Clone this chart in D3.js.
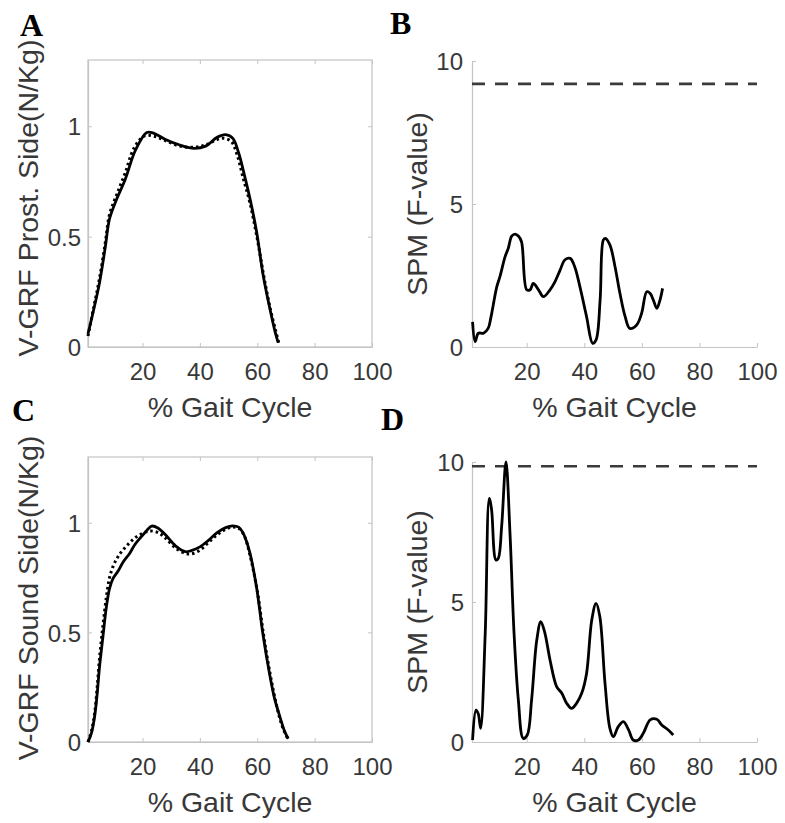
<!DOCTYPE html>
<html>
<head>
<meta charset="utf-8">
<script src="https://cdn.jsdelivr.net/npm/d3@7"></script>
<style>
html,body{margin:0;padding:0;background:#fff;}
svg{display:block;}
</style>
</head>
<body>
<svg id="chart" width="785" height="823"></svg>
<script>
// ---------------- DATA ----------------
const xTicks = [20, 40, 60, 80, 100];
const grfTicks = [0, 0.5, 1];
const spmTicks = [0, 5, 10];

// Panel A: V-GRF prosthetic side (solid / dotted)
const aSolidX = [1, 3, 5, 7, 8.5, 11, 14, 17.5, 21.5, 24, 28, 33, 38, 42, 46, 49, 51.5, 53.5, 55.5, 57.5, 59.8, 62, 64.3, 66.2, 67.3];
const aSolidY = [.06, .17, .29, .45, .58, .67, .76, .89, .972, .968, .94, .915, .90, .91, .95, .962, .945, .88, .78, .67, .52, .33, .18, .07, .02];
const aDotX = [1, 3, 5, 7, 8.5, 11, 14, 17, 20.5, 24, 28, 33, 38, 42, 46, 48.5, 51, 53, 55, 57.5, 60, 62.3, 64.6, 66.5, 67.5];
const aDotY = [.05, .18, .31, .47, .60, .69, .79, .90, .955, .955, .935, .91, .905, .915, .94, .945, .93, .87, .77, .65, .49, .32, .17, .07, .02];

// Panel B: SPM F-value, prosthetic side
const bX = [1.2, 2.1, 3.2, 5, 6.6, 7.5, 9.6, 10.7, 12.5, 13.6, 14.8, 16, 17.1, 18.2, 20, 21.2, 22.3, 24.1, 25.8, 28.1, 29.8, 31.6, 33.3, 35.1, 36.7, 38.5, 40.8, 42.9, 44.1, 45.5, 46.6, 47.3, 48.9, 50.7, 52.4, 54.2, 55.8, 58.2, 59.9, 61.7, 62.9, 64, 65.2, 66.3, 67.2];
const bY = [0.88, 0.19, 0.48, 0.48, 0.65, 1.0, 2.1, 2.46, 3.16, 3.45, 3.88, 3.95, 3.88, 3.68, 2.0, 2.0, 2.22, 2.0, 1.76, 2.0, 2.28, 2.69, 3.05, 3.1, 2.8, 2.1, 1.06, 0.13, 0.25, 1.64, 3.74, 3.8, 3.57, 2.8, 1.87, 1.06, 0.65, 0.77, 1.17, 1.93, 1.87, 1.64, 1.35, 1.64, 2.05];
const bThreshold = 9.2;

// Panel C: V-GRF sound side (solid / dotted)
const cSolidX = [1, 2.2, 3.3, 4.2, 5, 6.2, 7.4, 8.5, 9.7, 11.5, 13.2, 15.5, 17.3, 19.5, 21.5, 23.2, 25.5, 28, 31.5, 35, 37, 40, 43, 46, 49, 51.4, 53.5, 55, 57.3, 59.7, 62, 64.3, 66, 67.9, 69.5, 70.8];
const cSolidY = [0, .04, .115, .22, .34, .48, .615, .70, .745, .78, .82, .86, .90, .935, .965, .985, .975, .945, .895, .868, .873, .89, .92, .955, .978, .986, .98, .955, .87, .71, .49, .31, .20, .115, .05, .015];
const cDotX = [1, 2.2, 3.3, 4.2, 5, 6.2, 7.4, 8.5, 9.7, 11, 12.5, 14.5, 16.8, 19, 22.5, 25.5, 28, 31.5, 35, 37, 40, 43, 46, 49, 51.4, 53.5, 55.5, 57.5, 60, 62.3, 64.5, 66.5, 68.5, 70.5, 71.2];
const cDotY = [0, .05, .13, .25, .38, .53, .66, .75, .80, .835, .865, .895, .925, .945, .962, .955, .93, .885, .86, .858, .875, .91, .945, .97, .98, .975, .94, .85, .69, .48, .31, .18, .08, .02, .01];

// Panel D: SPM F-value, sound side
const dX = [1.2, 2.4, 3.2, 4, 5.6, 7, 7.8, 9.3, 10.1, 11.3, 12.8, 14.2, 15.6, 17.1, 18.8, 20.2, 21.7, 23.5, 24.9, 26.3, 28.1, 30.4, 32.2, 33.9, 35.6, 37.3, 39.1, 40.8, 42.6, 44.1, 45.4, 47.2, 48.9, 50.1, 51.8, 53.6, 55.4, 57, 58.8, 60.5, 62.9, 65.2, 66.9, 69.2, 70.9];
const dY = [0.07, 1.14, 1.0, 0.49, 3.9, 8.7, 8.3, 6.5, 6.55, 7.7, 10.0, 7.45, 3.9, 1.5, 0.13, 0.25, 1.5, 3.64, 4.3, 3.9, 2.93, 1.98, 1.74, 1.38, 1.2, 1.38, 1.74, 2.45, 4.36, 4.95, 4.48, 2.1, 0.49, 0.19, 0.55, 0.73, 0.43, 0.07, 0.07, 0.31, 0.79, 0.81, 0.61, 0.43, 0.25];
const dThreshold = 9.85;

// ---------------- DRAW ----------------
const svg = d3.select("#chart");
svg.append("rect").attr("width", 785).attr("height", 823).attr("fill", "#fff");

const FONT = "'Liberation Sans', Arial, sans-serif";
const AXIS_COLOR = "#c4c4c4";
const TEXT_COLOR = "#383838";
const zip = (xs, ys) => xs.map((x, i) => [x, ys[i]]);

function panel(cfg) {
  const x = d3.scaleLinear().domain([1, 100]).range([cfg.left, cfg.right]);
  const y = d3.scaleLinear().domain(cfg.yDomain).range([cfg.bottom, cfg.top]);
  const g = svg.append("g");

  if (cfg.box) {
    g.append("rect")
      .attr("x", cfg.left).attr("y", cfg.top)
      .attr("width", cfg.right - cfg.left).attr("height", cfg.bottom - cfg.top)
      .attr("fill", "none").attr("stroke", AXIS_COLOR).attr("stroke-width", 1.2);
    g.append("g").attr("transform", `translate(0,${cfg.top})`)
      .call(d3.axisTop(x).tickValues(xTicks).tickSizeInner(-4).tickSizeOuter(0).tickFormat(""))
      .call(s => s.select(".domain").remove())
      .call(s => s.selectAll("line").attr("stroke", AXIS_COLOR));
    g.append("g").attr("transform", `translate(${cfg.right},0)`)
      .call(d3.axisRight(y).tickValues(cfg.yTicks).tickSizeInner(-4).tickSizeOuter(0).tickFormat(""))
      .call(s => s.select(".domain").remove())
      .call(s => s.selectAll("line").attr("stroke", AXIS_COLOR));
  }

  const xa = g.append("g").attr("transform", `translate(0,${cfg.bottom})`)
    .call(d3.axisBottom(x).tickValues(xTicks).tickSizeInner(-4).tickSizeOuter(0).tickPadding(16));
  const ya = g.append("g").attr("transform", `translate(${cfg.left},0)`)
    .call(d3.axisLeft(y).tickValues(cfg.yTicks).tickSizeInner(-4).tickSizeOuter(0).tickPadding(cfg.yPad)
      .tickFormat(d => d3.format("~g")(d)));
  [xa, ya].forEach(a => {
    a.select(".domain").attr("stroke", AXIS_COLOR).attr("stroke-width", 1.2);
    a.selectAll("line").attr("stroke", AXIS_COLOR);
    a.selectAll("text").attr("font-family", FONT).attr("font-size", 24).attr("fill", TEXT_COLOR);
  });
  ya.selectAll("text").attr("dy", "0.36em");

  // x label
  g.append("text").attr("x", (cfg.left + cfg.right) / 2).attr("y", cfg.bottom + 70)
    .attr("text-anchor", "middle").attr("font-family", FONT).attr("font-size", 28.5)
    .attr("fill", TEXT_COLOR).text("% Gait Cycle");
  // y label
  g.append("text").attr("transform", `translate(${cfg.ylabX},${cfg.ylabY}) rotate(-90)`)
    .attr("text-anchor", "middle").attr("font-family", FONT).attr("font-size", 28.5)
    .attr("fill", TEXT_COLOR).text(cfg.ylabel);
  // panel letter
  g.append("text").attr("x", cfg.letterX).attr("y", cfg.letterY)
    .attr("font-family", "'Liberation Serif', 'Times New Roman', serif").attr("font-weight", "bold")
    .attr("font-size", 32).attr("fill", "#000").text(cfg.letter);

  const line = d3.line().x(d => x(d[0])).y(d => y(d[1])).curve(d3.curveCatmullRom.alpha(0.5));

  if (cfg.threshold !== undefined) {
    g.append("line").attr("x1", cfg.left).attr("x2", cfg.right)
      .attr("y1", y(cfg.threshold)).attr("y2", y(cfg.threshold))
      .attr("stroke", "#3a3a3a").attr("stroke-width", 2.6).attr("stroke-dasharray", "13,10");
  }
  cfg.series.forEach(s => {
    g.append("path").datum(s.data).attr("d", line)
      .attr("fill", "none").attr("stroke", "#000")
      .attr("stroke-width", s.dotted ? 3 : 2.8)
      .attr("stroke-dasharray", s.dotted ? "2.5,3" : null)
      .attr("stroke-linejoin", "round");
  });
}

panel({ letter: "A", letterX: 20, letterY: 36, left: 88, right: 372, top: 60, bottom: 347,
  yDomain: [0, 1.3], yTicks: grfTicks, yPad: 7, box: true,
  ylabel: "V-GRF Prost. Side(N/Kg)", ylabX: 38, ylabY: 198,
  series: [{ data: zip(aDotX, aDotY), dotted: true }, { data: zip(aSolidX, aSolidY) }] });

panel({ letter: "B", letterX: 390, letterY: 34, left: 472, right: 757, top: 61, bottom: 347,
  yDomain: [0, 10], yTicks: spmTicks, yPad: 9, box: false, threshold: bThreshold,
  ylabel: "SPM (F-value)", ylabX: 427, ylabY: 204,
  series: [{ data: zip(bX, bY) }] });

panel({ letter: "C", letterX: 12, letterY: 421, left: 88, right: 372, top: 457, bottom: 742,
  yDomain: [0, 1.3], yTicks: grfTicks, yPad: 7, box: true,
  ylabel: "V-GRF Sound Side(N/Kg)", ylabX: 38, ylabY: 598,
  series: [{ data: zip(cDotX, cDotY), dotted: true }, { data: zip(cSolidX, cSolidY) }] });

panel({ letter: "D", letterX: 381, letterY: 430, left: 472, right: 757, top: 462, bottom: 742,
  yDomain: [0, 10], yTicks: spmTicks, yPad: 8, box: false, threshold: dThreshold,
  ylabel: "SPM (F-value)", ylabX: 427, ylabY: 602,
  series: [{ data: zip(dX, dY) }] });
</script>
</body>
</html>
